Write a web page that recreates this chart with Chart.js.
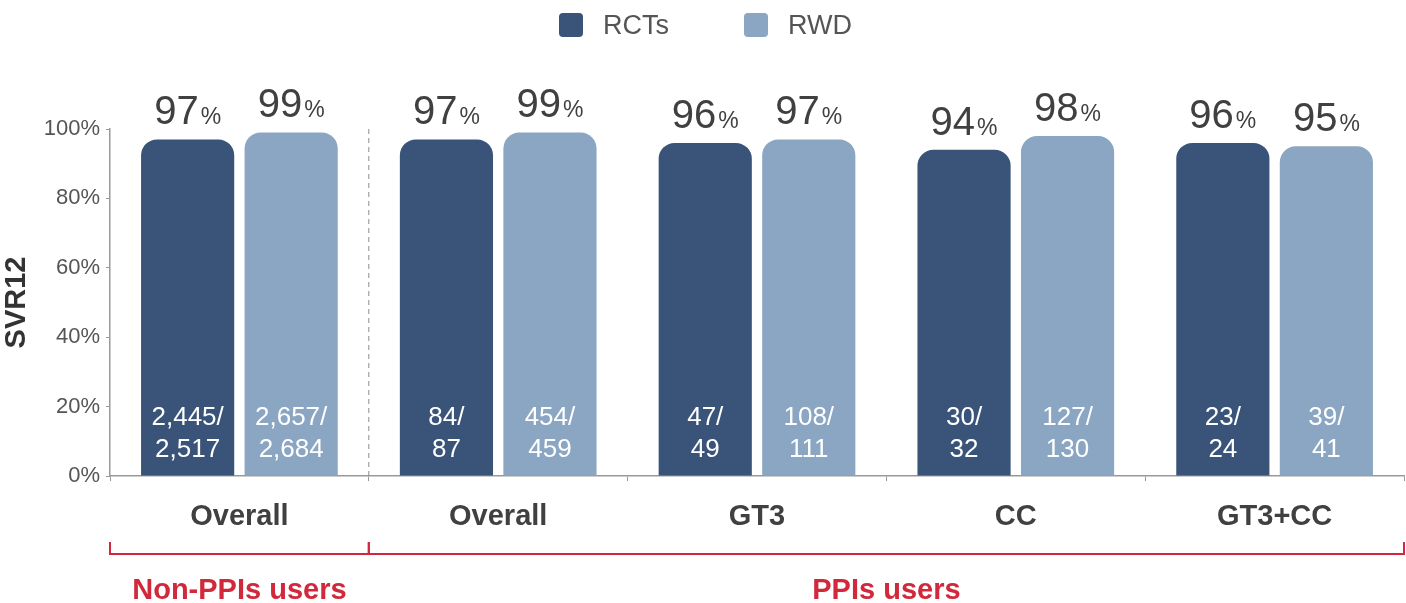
<!DOCTYPE html>
<html>
<head>
<meta charset="utf-8">
<script src="https://cdn.jsdelivr.net/npm/chart.js@4"></script>
<style>
  html, body { margin: 0; padding: 0; background: #fff; }
  #wrap { position: relative; width: 1406px; height: 603px; }
  #legend { position: absolute; top: 13px; left: 0; width: 1406px; height: 26px; }
  .item { position: absolute; top: 0; font: 27px "Liberation Sans", Arial, sans-serif; color: #555; line-height: 24px; }
  .swatch { position: absolute; left: 0; top: 0; width: 24px; height: 24px; border-radius: 4px; }
  .item span { position: absolute; left: 44px; top: 0; white-space: nowrap; }
</style>
</head>
<body>
<div id="wrap">
  <canvas id="chart" width="1406" height="603"></canvas>
  <div id="legend"></div>
</div>
<script>
// 데이터
const categories = ["Overall", "Overall", "GT3", "CC", "GT3+CC"];
const seriesNames = ["RCTs", "RWD"];
const rctValues = [97, 97, 96, 94, 96];
const rwdValues = [99, 99, 97, 98, 95];
const rctCounts = ["2,445/", "84/", "47/", "30/", "23/"];
const rctTotals = ["2,517", "87", "49", "32", "24"];
const rwdCounts = ["2,657/", "454/", "108/", "127/", "39/"];
const rwdTotals = ["2,684", "459", "111", "130", "41"];
const groupNames = ["Non-PPIs users", "PPIs users"];
const groupSpans = [[0, 0], [1, 4]]; // category index ranges
const yTicks = [0, 20, 40, 60, 80, 100];

const colors = ["#3a5479", "#8ba6c2"];
const FONT = '"Liberation Sans", Arial, sans-serif';
const RED = "#d2283c";

// HTML legend
const legend = document.getElementById("legend");
const legendX = [559, 744];
seriesNames.forEach((name, i) => {
  const item = document.createElement("div");
  item.className = "item";
  item.style.left = legendX[i] + "px";
  item.innerHTML = `<div class="swatch" style="background:${colors[i]}"></div><span>${name}</span>`;
  legend.appendChild(item);
});

// 라벨, 점선, 괄호 그리는 플러그인
const annotations = {
  id: "annotations",
  afterDatasetsDraw(chart) {
    const ctx = chart.ctx;
    const xs = chart.scales.x;
    const ys = chart.scales.y;
    const base = ys.getPixelForValue(0);
    const values = [rctValues, rwdValues];
    const counts = [rctCounts, rwdCounts];
    const totals = [rctTotals, rwdTotals];

    ctx.save();
    chart.data.datasets.forEach((ds, di) => {
      chart.getDatasetMeta(di).data.forEach((bar, i) => {
        // value above bar: big number + small %
        const num = String(values[di][i]);
        ctx.font = "40px " + FONT;
        const wNum = ctx.measureText(num).width;
        ctx.font = "23px " + FONT;
        const wPct = ctx.measureText("%").width;
        const left = bar.x - (wNum + wPct + 2) / 2;
        const baseline = bar.y - 15;
        ctx.fillStyle = "#404040";
        ctx.textBaseline = "alphabetic";
        ctx.textAlign = "left";
        ctx.font = "40px " + FONT;
        ctx.fillText(num, left, baseline);
        ctx.font = "23px " + FONT;
        ctx.fillText("%", left + wNum + 2, baseline);

        // n/N inside bar
        ctx.fillStyle = "#ffffff";
        ctx.textAlign = "center";
        ctx.textBaseline = "middle";
        ctx.font = "26px " + FONT;
        ctx.fillText(counts[di][i], bar.x, base - 58);
        ctx.fillText(totals[di][i], bar.x, base - 26);
      });
    });

    // dashed separator between non-PPI and PPI groups
    const sepX = (xs.getPixelForValue(0) + xs.getPixelForValue(1)) / 2;
    ctx.strokeStyle = "#8c8c8c";
    ctx.lineWidth = 1;
    ctx.setLineDash([5, 4]);
    ctx.beginPath();
    ctx.moveTo(sepX, ys.getPixelForValue(100));
    ctx.lineTo(sepX, base + 4);
    ctx.stroke();
    ctx.setLineDash([]);

    // red brackets + group labels
    const half = (xs.getPixelForValue(1) - xs.getPixelForValue(0)) / 2;
    const lineY = base + 78;
    ctx.strokeStyle = RED;
    ctx.lineWidth = 2;
    ctx.fillStyle = RED;
    ctx.font = "bold 29px " + FONT;
    ctx.textAlign = "center";
    ctx.textBaseline = "middle";
    groupSpans.forEach((span, g) => {
      const x0 = xs.getPixelForValue(span[0]) - half;
      const x1 = xs.getPixelForValue(span[1]) + half;
      ctx.beginPath();
      ctx.moveTo(x0, lineY - 12);
      ctx.lineTo(x0, lineY);
      ctx.lineTo(x1, lineY);
      ctx.lineTo(x1, lineY - 12);
      ctx.stroke();
      ctx.fillText(groupNames[g], (x0 + x1) / 2, base + 115);
    });
    ctx.restore();
  }
};

new Chart(document.getElementById("chart"), {
  type: "bar",
  data: {
    labels: categories,
    datasets: [
      { label: seriesNames[0], data: rctValues, backgroundColor: colors[0] },
      { label: seriesNames[1], data: rwdValues, backgroundColor: colors[1] }
    ]
  },
  options: {
    responsive: false,
    animation: false,
    layout: { padding: { top: 129, right: 2, left: 0, bottom: 0 } },
    datasets: {
      bar: {
        categoryPercentage: 0.8,
        barPercentage: 0.9,
        borderRadius: { topLeft: 16, topRight: 16, bottomLeft: 0, bottomRight: 0 },
        borderSkipped: "bottom"
      }
    },
    plugins: {
      legend: { display: false },
      tooltip: { enabled: false }
    },
    scales: {
      x: {
        grid: { drawOnChartArea: false, tickLength: 5, color: "#999", offset: true },
        border: { color: "#999", width: 1.5 },
        ticks: {
          font: { family: FONT, size: 29, weight: "bold" },
          color: "#404040",
          padding: 19
        },
        afterFit: (s) => { s.height = 127; }
      },
      y: {
        min: 0,
        max: 100,
        afterBuildTicks: (s) => { s.ticks = yTicks.map(v => ({ value: v })); },
        grid: { drawOnChartArea: false, tickLength: 4, color: "#999" },
        border: { color: "#999", width: 1.5 },
        ticks: {
          font: { family: FONT, size: 22 },
          color: "#555",
          padding: 6,
          callback: (v) => v + "%"
        },
        title: {
          display: true,
          text: "SVR12",
          font: { family: FONT, size: 29, weight: "bold" },
          color: "#333",
          padding: { top: 0, bottom: 0 }
        },
        afterFit: (s) => { s.width = 110; }
      }
    }
  },
  plugins: [annotations]
});
</script>
</body>
</html>
